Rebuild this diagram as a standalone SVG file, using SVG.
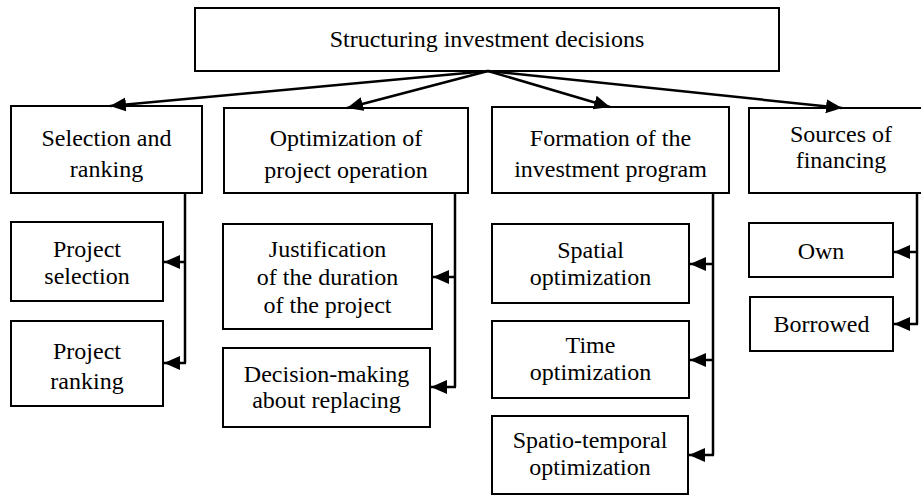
<svg xmlns="http://www.w3.org/2000/svg" width="921" height="496" viewBox="0 0 921 496">
  <style>
    .box { fill: #ffffff; stroke: #000000; stroke-width: 2; }
    .lbl { font-size: 24px; fill: #000000; text-anchor: middle; }
    .wire { fill: none; stroke: #000000; stroke-width: 2.5; }
  </style>
  <defs>
    <marker id="head" markerUnits="userSpaceOnUse" markerWidth="17" markerHeight="15" refX="16" refY="7" orient="auto">
      <path d="M0,0 L16,7 L0,14 z" fill="#000000"/>
    </marker>
  </defs>
  <rect width="921" height="496" fill="#ffffff"/>

  <g font-family="Liberation Serif, Times New Roman, Times, Noto Serif, DejaVu Serif, serif">
  <!-- root -->
  <g id="root">
    <rect class="box" x="195" y="8" width="584" height="63"/>
    <text class="lbl" x="487" y="47">Structuring investment decisions</text>
  </g>

  <!-- first level -->
  <g id="selection-ranking">
    <rect class="box" x="11" y="106" width="191" height="87"/>
    <text class="lbl" x="106.5" y="146">Selection and</text>
    <text class="lbl" x="106.5" y="177">ranking</text>
  </g>
  <g id="optimization-operation">
    <rect class="box" x="224" y="108" width="244" height="85"/>
    <text class="lbl" x="346" y="146">Optimization of</text>
    <text class="lbl" x="346" y="178">project operation</text>
  </g>
  <g id="investment-program">
    <rect class="box" x="492" y="107" width="237" height="86"/>
    <text class="lbl" x="610.5" y="146">Formation of the</text>
    <text class="lbl" x="610.5" y="177">investment program</text>
  </g>
  <g id="financing-sources">
    <rect class="box" x="749" y="108" width="184" height="85"/>
    <text class="lbl" x="841" y="142">Sources of</text>
    <text class="lbl" x="841" y="168">financing</text>
  </g>

  <!-- second level: selection and ranking -->
  <g id="project-selection">
    <rect class="box" x="11" y="222" width="152" height="79"/>
    <text class="lbl" x="87" y="257">Project</text>
    <text class="lbl" x="87" y="284">selection</text>
  </g>
  <g id="project-ranking">
    <rect class="box" x="11" y="321" width="152" height="85"/>
    <text class="lbl" x="87" y="359">Project</text>
    <text class="lbl" x="87" y="389">ranking</text>
  </g>

  <!-- second level: operation -->
  <g id="duration-justification">
    <rect class="box" x="223" y="224" width="209" height="105"/>
    <text class="lbl" x="327.5" y="257">Justification</text>
    <text class="lbl" x="327.5" y="285">of the duration</text>
    <text class="lbl" x="327.5" y="313">of the project</text>
  </g>
  <g id="replacement-decision">
    <rect class="box" x="223" y="348" width="207" height="79"/>
    <text class="lbl" x="326.5" y="382">Decision-making</text>
    <text class="lbl" x="326.5" y="408">about replacing</text>
  </g>

  <!-- second level: investment program -->
  <g id="spatial-optimization">
    <rect class="box" x="492" y="224" width="197" height="79"/>
    <text class="lbl" x="590.5" y="258">Spatial</text>
    <text class="lbl" x="590.5" y="285">optimization</text>
  </g>
  <g id="time-optimization">
    <rect class="box" x="492" y="321" width="197" height="77"/>
    <text class="lbl" x="590.5" y="353">Time</text>
    <text class="lbl" x="590.5" y="380">optimization</text>
  </g>
  <g id="spatiotemporal-optimization">
    <rect class="box" x="492" y="416" width="196" height="78"/>
    <text class="lbl" x="590" y="448">Spatio-temporal</text>
    <text class="lbl" x="590" y="475">optimization</text>
  </g>

  <!-- second level: financing -->
  <g id="own-funds">
    <rect class="box" x="749" y="223" width="144" height="54"/>
    <text class="lbl" x="821" y="259">Own</text>
  </g>
  <g id="borrowed-funds">
    <rect class="box" x="750" y="297" width="143" height="54"/>
    <text class="lbl" x="821.5" y="332">Borrowed</text>
  </g>
  </g>

  <!-- connectors -->
  <g id="connectors">
    <line class="wire" x1="488" y1="71" x2="110" y2="106" marker-end="url(#head)"/>
    <line class="wire" x1="488" y1="71" x2="347" y2="108" marker-end="url(#head)"/>
    <line class="wire" x1="488" y1="71" x2="610" y2="107" marker-end="url(#head)"/>
    <line class="wire" x1="488" y1="71" x2="842" y2="108" marker-end="url(#head)"/>

    <polyline class="wire" points="185,193 185,363"/>
    <line class="wire" x1="186" y1="262" x2="164" y2="262" marker-end="url(#head)"/>
    <line class="wire" x1="186" y1="363" x2="164" y2="363" marker-end="url(#head)"/>

    <polyline class="wire" points="455,193 455,387"/>
    <line class="wire" x1="456" y1="277" x2="433" y2="277" marker-end="url(#head)"/>
    <line class="wire" x1="456" y1="387" x2="431" y2="387" marker-end="url(#head)"/>

    <polyline class="wire" points="713,193 713,455"/>
    <line class="wire" x1="714" y1="264" x2="690" y2="264" marker-end="url(#head)"/>
    <line class="wire" x1="714" y1="360" x2="690" y2="360" marker-end="url(#head)"/>
    <line class="wire" x1="714" y1="455" x2="689" y2="455" marker-end="url(#head)"/>

    <polyline class="wire" points="917,193 917,324"/>
    <line class="wire" x1="918" y1="252" x2="894" y2="252" marker-end="url(#head)"/>
    <line class="wire" x1="918" y1="324" x2="894" y2="324" marker-end="url(#head)"/>
  </g>
</svg>
